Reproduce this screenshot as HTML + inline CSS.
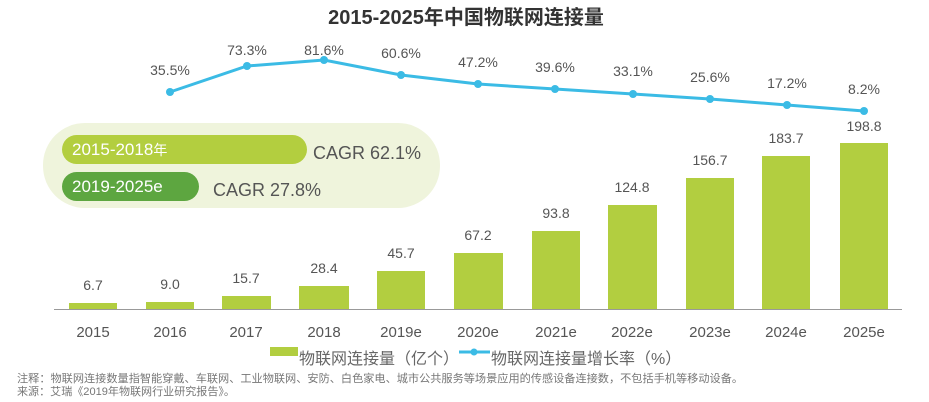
<!DOCTYPE html>
<html><head><meta charset="utf-8"><style>
html,body{margin:0;padding:0;background:#fff;}
svg{display:block;}
text{font-family:"Liberation Sans","Noto Sans CJK SC",sans-serif;}
</style></head><body>
<svg width="929" height="402" viewBox="0 0 929 402" xmlns="http://www.w3.org/2000/svg">
<text x="466" y="24" text-anchor="middle" font-size="20" font-weight="bold" fill="#333">2015-2025年中国物联网连接量</text>
<rect x="43" y="123" width="397" height="85" rx="42" fill="#EFF4DC"/>
<rect x="62" y="135" width="245" height="29" rx="14.5" fill="#B3CE3F"/>
<text x="72" y="155" font-size="17" fill="#fff">2015-2018<tspan font-size="14">年</tspan></text>
<text x="313" y="159" font-size="18" fill="#555">CAGR 62.1%</text>
<rect x="62" y="172" width="137" height="29" rx="14.5" fill="#5DA640"/>
<text x="72" y="192" font-size="17" fill="#fff">2019-2025e</text>
<text x="213" y="196" font-size="18" fill="#555">CAGR 27.8%</text>
<g fill="#B2CE40">
<rect x="69" y="303" width="48" height="6"/>
<rect x="146" y="302" width="48" height="7"/>
<rect x="222" y="296" width="49" height="13"/>
<rect x="299" y="286" width="50" height="23"/>
<rect x="377" y="271" width="48" height="38"/>
<rect x="454" y="253" width="49" height="56"/>
<rect x="532" y="231" width="48" height="78"/>
<rect x="608" y="205" width="49" height="104"/>
<rect x="686" y="178" width="48" height="131"/>
<rect x="762" y="156" width="48" height="153"/>
<rect x="840" y="143" width="48" height="166"/>
</g>
<line x1="54" y1="309.5" x2="902" y2="309.5" stroke="#999" stroke-width="1"/>
<g font-size="14" fill="#555" text-anchor="middle">
<text x="93" y="290">6.7</text>
<text x="170" y="289">9.0</text>
<text x="246" y="283">15.7</text>
<text x="324" y="273">28.4</text>
<text x="401" y="258">45.7</text>
<text x="478" y="240">67.2</text>
<text x="556" y="218">93.8</text>
<text x="632" y="192">124.8</text>
<text x="710" y="165">156.7</text>
<text x="786" y="143">183.7</text>
<text x="864" y="131">198.8</text>
</g>
<g font-size="15" fill="#555" text-anchor="middle">
<text x="93" y="337">2015</text>
<text x="170" y="337">2016</text>
<text x="246" y="337">2017</text>
<text x="324" y="337">2018</text>
<text x="401" y="337">2019e</text>
<text x="478" y="337">2020e</text>
<text x="556" y="337">2021e</text>
<text x="632" y="337">2022e</text>
<text x="710" y="337">2023e</text>
<text x="786" y="337">2024e</text>
<text x="864" y="337">2025e</text>
</g>
<polyline points="170,92 247,66 324,60 401,75 478,84 555,89 633,94 710,99 787,105 864,111" fill="none" stroke="#3BBBE5" stroke-width="3"/>
<g fill="#3BBBE5">
<circle cx="170" cy="92" r="4"/><circle cx="247" cy="66" r="4"/><circle cx="324" cy="60" r="4"/><circle cx="401" cy="75" r="4"/><circle cx="478" cy="84" r="4"/><circle cx="555" cy="89" r="4"/><circle cx="633" cy="94" r="4"/><circle cx="710" cy="99" r="4"/><circle cx="787" cy="105" r="4"/><circle cx="864" cy="111" r="4"/>
</g>
<g font-size="14" fill="#555" text-anchor="middle">
<text x="170" y="75">35.5%</text>
<text x="247" y="55">73.3%</text>
<text x="324" y="55">81.6%</text>
<text x="401" y="58">60.6%</text>
<text x="478" y="67">47.2%</text>
<text x="555" y="72">39.6%</text>
<text x="633" y="76">33.1%</text>
<text x="710" y="82">25.6%</text>
<text x="787" y="88">17.2%</text>
<text x="864" y="94">8.2%</text>
</g>
<rect x="270" y="347" width="28" height="9" fill="#B2CE40"/>
<text x="299" y="364" font-size="16" fill="#666">物联网连接量（亿个）</text>
<line x1="459" y1="352" x2="490" y2="352" stroke="#3BBBE5" stroke-width="3"/>
<circle cx="474" cy="352" r="3.5" fill="#3BBBE5"/>
<text x="491" y="364" font-size="16" fill="#666">物联网连接量增长率（%）</text>
<text x="17" y="382" font-size="11" fill="#777" textLength="726" lengthAdjust="spacingAndGlyphs">注释：物联网连接数量指智能穿戴、车联网、工业物联网、安防、白色家电、城市公共服务等场景应用的传感设备连接数，不包括手机等移动设备。</text>
<text x="17" y="395" font-size="11" fill="#777" textLength="218" lengthAdjust="spacingAndGlyphs">来源：艾瑞《2019年物联网行业研究报告》。</text>
</svg>
</body></html>
